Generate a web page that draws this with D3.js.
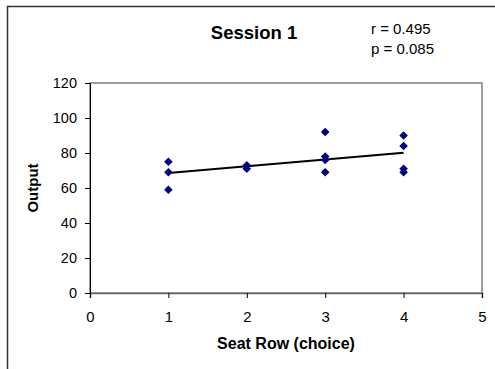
<!DOCTYPE html>
<html>
<head>
<meta charset="utf-8">
<script src="https://cdn.jsdelivr.net/npm/d3@7"></script>
<style>
  body { margin: 0; background: #fff; }
  svg { display: block; }
  svg text { font-family: "Liberation Sans", Arial, sans-serif; }
</style>
</head>
<body>
<svg id="svg" width="495" height="369"></svg>
<script>
// data
var seatRow = [1, 1, 1, 2, 2, 3, 3, 3, 3, 4, 4, 4, 4];
var output  = [75, 69, 59, 73, 71, 92, 78, 76, 69, 90, 84, 71, 69];
var xTicks = [0, 1, 2, 3, 4, 5];
var xTickLabels = ['0', '1', '2', '3', '4', '5'];
var yTicks = [0, 20, 40, 60, 80, 100, 120];
var statLines = ['r = 0.495', 'p = 0.085'];

var svg = d3.select('#svg');
var margin = { top: 83, left: 90, right: 13, bottom: 76 };
var innerWidth = 495 - margin.left - margin.right;
var innerHeight = 369 - margin.top - margin.bottom;

// outer chart border (only top and left are inside the window)
svg.append('path')
  .attr('d', 'M7.5,369V6.5H495')
  .attr('fill', 'none')
  .attr('stroke', '#333')
  .attr('stroke-width', 1.5);

var xScale = d3.scaleLinear().domain([0, 5]).range([0, innerWidth]);
var yScale = d3.scaleLinear().domain([0, 120]).range([innerHeight, 0]);

var g = svg.append('g')
  .attr('transform', 'translate(' + margin.left + ',' + margin.top + ')');

// plot area border
g.append('rect')
  .attr('x', 0).attr('y', 0)
  .attr('width', innerWidth).attr('height', innerHeight)
  .attr('fill', 'none')
  .attr('stroke', '#808080')
  .attr('stroke-width', 1.5);

var xAxis = g.append('g')
  .attr('transform', 'translate(0,' + innerHeight + ')')
  .call(d3.axisBottom(xScale).tickValues(xTicks).tickSize(5).tickPadding(13.5)
    .tickFormat(function (d, i) { return xTickLabels[i]; }));
xAxis.select('.domain').attr('stroke', '#666').attr('stroke-width', 1.5);
xAxis.selectAll('text')
  .style('font-size', '15px')
  .attr('fill', '#000');

var yAxis = g.append('g')
  .call(d3.axisLeft(yScale).tickValues(yTicks).tickSize(5).tickPadding(8));
yAxis.select('.domain').attr('stroke', '#000');
yAxis.selectAll('text').style('font-size', '14.5px').attr('fill', '#000');

// linear regression trendline
var mx = d3.mean(seatRow), my = d3.mean(output);
var sxy = d3.sum(seatRow, function (x, i) { return (x - mx) * (output[i] - my); });
var sxx = d3.sum(seatRow, function (x) { return (x - mx) * (x - mx); });
var slope = sxy / sxx;
var intercept = my - slope * mx;
var xMin = d3.min(seatRow), xMax = d3.max(seatRow);

g.append('line')
  .attr('x1', xScale(xMin)).attr('y1', yScale(intercept + slope * xMin))
  .attr('x2', xScale(xMax)).attr('y2', yScale(intercept + slope * xMax))
  .attr('stroke', '#000')
  .attr('stroke-width', 2);

// diamond markers
g.selectAll('.pt')
  .data(seatRow)
  .join('path')
  .attr('class', 'pt')
  .attr('d', 'M0,-4.3L4.3,0L0,4.3L-4.3,0Z')
  .attr('transform', function (d, i) { return 'translate(' + xScale(d) + ',' + yScale(output[i]) + ')'; })
  .attr('fill', '#000080');

// titles
svg.append('text')
  .attr('x', 254).attr('y', 39)
  .attr('text-anchor', 'middle')
  .style('font-weight', 'bold')
  .style('font-size', '18.5px')
  .text('Session 1');

svg.selectAll('.stat')
  .data(statLines)
  .join('text')
  .attr('class', 'stat')
  .attr('x', 371)
  .attr('y', function (d, i) { return 34 + i * 20; })
  .style('font-size', '15px')
  .text(function (d) { return d; });

svg.append('text')
  .attr('x', margin.left + innerWidth / 2)
  .attr('y', 349)
  .attr('text-anchor', 'middle')
  .style('font-weight', 'bold')
  .style('font-size', '16px')
  .text('Seat Row (choice)');

svg.append('text')
  .attr('transform', 'translate(38,' + (margin.top + innerHeight / 2) + ') rotate(-90)')
  .attr('text-anchor', 'middle')
  .style('font-weight', 'bold')
  .style('font-size', '15px')
  .text('Output');
</script>
</body>
</html>
